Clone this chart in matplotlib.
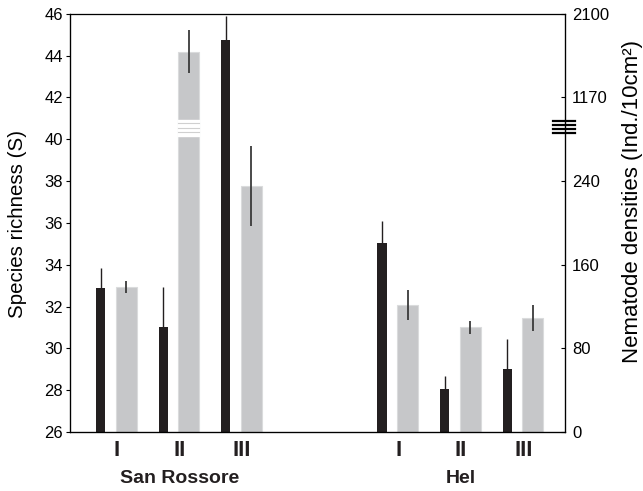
import numpy as np
import matplotlib
matplotlib.use('Agg')
import matplotlib.pyplot as plt
import matplotlib.transforms as mtransforms

# zones within each site
zones = ['I', 'II', 'III', 'I', 'II', 'III']
sites = ['San Rossore', 'Hel']

# species richness (left axis) - black bars, error shown upward only
richness = [32.9, 31.0, 44.75, 35.05, 28.05, 29.0]
richness_err = [0.95, 1.95, 1.15, 1.05, 0.62, 1.45]

# nematode densities drawn on the broken right scale, in left-axis units
density_plot = [32.94, 44.18, 37.77, 32.08, 31.02, 31.45]
density_err = [0.30, 1.03, 1.9, 0.72, 0.31, 0.63]

# right axis tick labels (broken scale) and the left-axis values they sit on
right_ticks = [26, 30, 34, 38, 42, 46]
right_labels = ['0', '80', '160', '240', '1170', '2100']

pos = np.array([0, 1, 2, 4.5, 5.5, 6.5])
black = '#231f20'
grey = '#c6c7c9'

plt.rcParams['font.family'] = ['Liberation Sans', 'DejaVu Sans']

fig = plt.figure(figsize=(6.43, 4.91), dpi=100)
ax = fig.add_axes([0.109, 0.120, 0.770, 0.852])

ax.bar(pos, richness, width=0.145, bottom=0, color=black, zorder=2)
ax.errorbar(pos, richness, yerr=[np.zeros(6), richness_err], fmt='none',
            ecolor=black, elinewidth=1.0, capsize=0, zorder=3)

ax.bar(pos + 0.41, density_plot, width=0.34, color=grey, edgecolor='#dadbdc',
       linewidth=0.8, zorder=2)
ax.errorbar(pos + 0.41, density_plot, yerr=density_err, fmt='none',
            ecolor='#3a3a3a', elinewidth=1.3, capsize=0, zorder=3)

# break in the tall density bar (San Rossore II)
bx = pos[1] + 0.41
ax.fill_between([bx - 0.17, bx + 0.17], 40.15, 40.9, color='white', zorder=2.5)
for yb in [40.78, 40.56, 40.36]:
    ax.plot([bx - 0.17, bx + 0.17], [yb, yb], color='#d0d0d0', lw=0.8, zorder=2.6)

ax.set_xlim(-0.49, 7.43)
ax.set_ylim(26, 46)
ax.set_yticks(np.arange(26, 47, 2))
ax.tick_params(axis='y', direction='out', length=3, width=0.8, labelsize=12, pad=2)
ax.set_ylabel('Species richness (S)', fontsize=14.8)
ax.yaxis.label.set_va('center')
ax.yaxis.set_label_coords(-0.107, 0.498)

ax.set_xticks(pos + 0.26)
ax.set_xticklabels(zones, fontsize=16, fontweight='bold', color='#231f20')
ax.tick_params(axis='x', length=0, pad=6)

for sp in ['top', 'bottom', 'left', 'right']:
    ax.spines[sp].set_linewidth(0.9)
ax.spines['top'].set_color('#555555')

ax2 = ax.twinx()
ax2.set_ylim(26, 46)
ax2.set_yticks(right_ticks)
ax2.set_yticklabels(right_labels)
ax2.tick_params(axis='y', direction='in', length=3, width=0.8, labelsize=12, pad=5)
ax2.set_ylabel('Nematode densities (Ind./10cm²)', fontsize=16)
ax2.yaxis.label.set_va('center')
ax2.yaxis.set_label_coords(1.135, 0.55)

# break marks on the right axis
trans = mtransforms.blended_transform_factory(ax.transAxes, ax.transData)
for yb in [40.85, 40.67, 40.48, 40.29]:
    ax2.plot([0.976, 1.02], [yb, yb], color='black', lw=1.6, transform=trans,
             clip_on=False, zorder=5)

# site labels under the middle zone of each group
for name, xc in zip(sites, [pos[1] + 0.26, pos[4] + 0.26]):
    ax.text(xc, -0.11, name, transform=mtransforms.blended_transform_factory(ax.transData, ax.transAxes),
            ha='center', va='center', fontsize=14, fontweight='bold', color='#231f20')

fig.savefig('out.png', dpi=100)
